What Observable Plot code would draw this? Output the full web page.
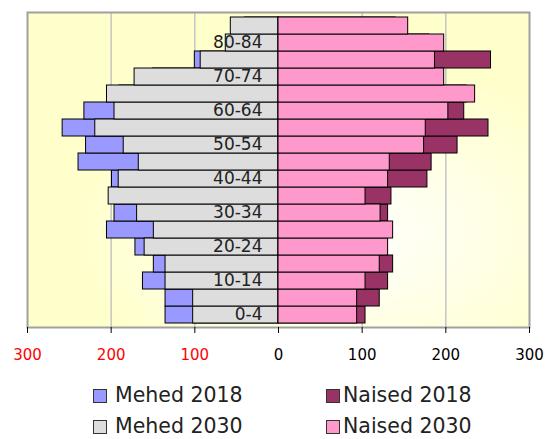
<!DOCTYPE html>
<html>
<head>
<meta charset="utf-8">
<script src="https://cdn.jsdelivr.net/npm/d3@7"></script>
<script src="https://cdn.jsdelivr.net/npm/@observablehq/plot@0.6"></script>
<style>
  body { margin: 0; background: #fff; font-family: "DejaVu Sans", sans-serif; }
  #wrap { position: relative; width: 548px; height: 439px; overflow: hidden; }
  .lg { position: absolute; font-size: 20.5px; line-height: 18px; color: #222; white-space: nowrap; }
  .sw { position: absolute; width: 12px; height: 12px; border: 1px solid #333; box-sizing: content-box; }
</style>
</head>
<body>
<div id="wrap"></div>
<script>
// Age groups, bottom to top
const ages = ["0-4","5-9","10-14","15-19","20-24","25-29","30-34","35-39","40-44","45-49","50-54","55-59","60-64","65-69","70-74","75-79","80-84","85+"];
const labelAges = ["0-4","10-14","20-24","30-34","40-44","50-54","60-64","70-74","80-84"];
const male2018   = [135,135,162,149,171,205,196,195,199,239,230,258,232,190,150,100,55,40];
const male2030   = [102,102,135,135,160,149,169,203,191,167,185,219,196,205,172,93,63,57];
const female2018 = [104,121,131,137,125,130,131,135,178,183,214,251,222,225,190,254,180,140];
const female2030 = [94,94,104,121,131,137,122,104,131,133,174,176,203,235,198,187,198,155];
const negTicks = [-300,-200,-100];
const posTicks = [0,100,200,300];
const gridTicks = [-200,-100,100,200];
const seriesNames = ["Mehed 2018","Naised 2018","Mehed 2030","Naised 2030"];
const seriesColors = ["#9999ff","#993366","#dddddd","#ff99cc"];

const rows = ages.map((a, i) => ({age: a, m18: male2018[i], m30: male2030[i], f18: female2018[i], f30: female2030[i]}));

const barOpts = {stroke: "#000", strokeWidth: 1, insetTop: 0, insetBottom: 0};

const chart = Plot.plot({
  width: 548,
  height: 375,
  marginTop: 12,
  marginBottom: 48,
  marginLeft: 27,
  marginRight: 19,
  style: {background: "transparent", fontFamily: "DejaVu Sans, sans-serif"},
  x: {domain: [-300, 300], label: null},
  y: {domain: ages.slice().reverse(), padding: 0, axis: null},
  marks: [
    Plot.frame({fill: "url(#bgGrad)"}),
    Plot.gridX(gridTicks, {stroke: "#c4c4c4", strokeOpacity: 1, strokeWidth: 1.5}),
    Plot.barX(rows, {y: "age", x1: 0, x2: d => -d.m18, fill: seriesColors[0], ...barOpts}),
    Plot.barX(rows, {y: "age", x1: 0, x2: d => -d.m30, fill: seriesColors[2], ...barOpts}),
    Plot.barX(rows, {y: "age", x1: 0, x2: d => d.f18, fill: seriesColors[1], ...barOpts}),
    Plot.barX(rows, {y: "age", x1: 0, x2: d => d.f30, fill: seriesColors[3], ...barOpts}),
    Plot.frame({stroke: "#a0a0a0", strokeWidth: 2}),
    Plot.axisX({ticks: negTicks, tickSize: 6, tickPadding: 16, tickFormat: d => Math.abs(d), fill: "#ff0000", stroke: "#000", fontSize: 15, label: null}),
    Plot.axisX({ticks: posTicks, tickSize: 6, tickPadding: 16, tickFormat: d => d, fill: "#000", stroke: "#000", fontSize: 15, label: null}),
    Plot.text(labelAges, {x: 0, y: d => d, text: d => d, textAnchor: "end", dx: -16, fontSize: 17, fill: "#222"})
  ]
});

// background gradient definition
const svg = d3.select(chart);
const defs = svg.insert("defs", ":first-child");
const g = defs.append("radialGradient").attr("id", "bgGrad")
  .attr("cx", 0.64).attr("cy", 0.7).attr("r", 0.55);
g.append("stop").attr("offset", "0%").attr("stop-color", "#ffffff");
g.append("stop").attr("offset", "100%").attr("stop-color", "#ffffcc");

const wrap = document.getElementById("wrap");
wrap.appendChild(chart);
chart.style.position = "absolute";
chart.style.left = "0px";
chart.style.top = "0px";

// legend (HTML, below the SVG)
const legendPos = [
  {sx: 93, tx: 115, top: 386, st: 389},
  {sx: 326, tx: 343, top: 386, st: 389},
  {sx: 93, tx: 115, top: 417, st: 420},
  {sx: 326, tx: 343, top: 417, st: 420}
];
seriesNames.forEach((name, i) => {
  const p = legendPos[i];
  const sw = document.createElement("div");
  sw.className = "sw";
  sw.style.left = p.sx + "px";
  sw.style.top = p.st + "px";
  sw.style.background = seriesColors[i];
  wrap.appendChild(sw);
  const t = document.createElement("div");
  t.className = "lg";
  t.style.left = p.tx + "px";
  t.style.top = p.top + "px";
  t.textContent = name;
  wrap.appendChild(t);
});
</script>
</body>
</html>
